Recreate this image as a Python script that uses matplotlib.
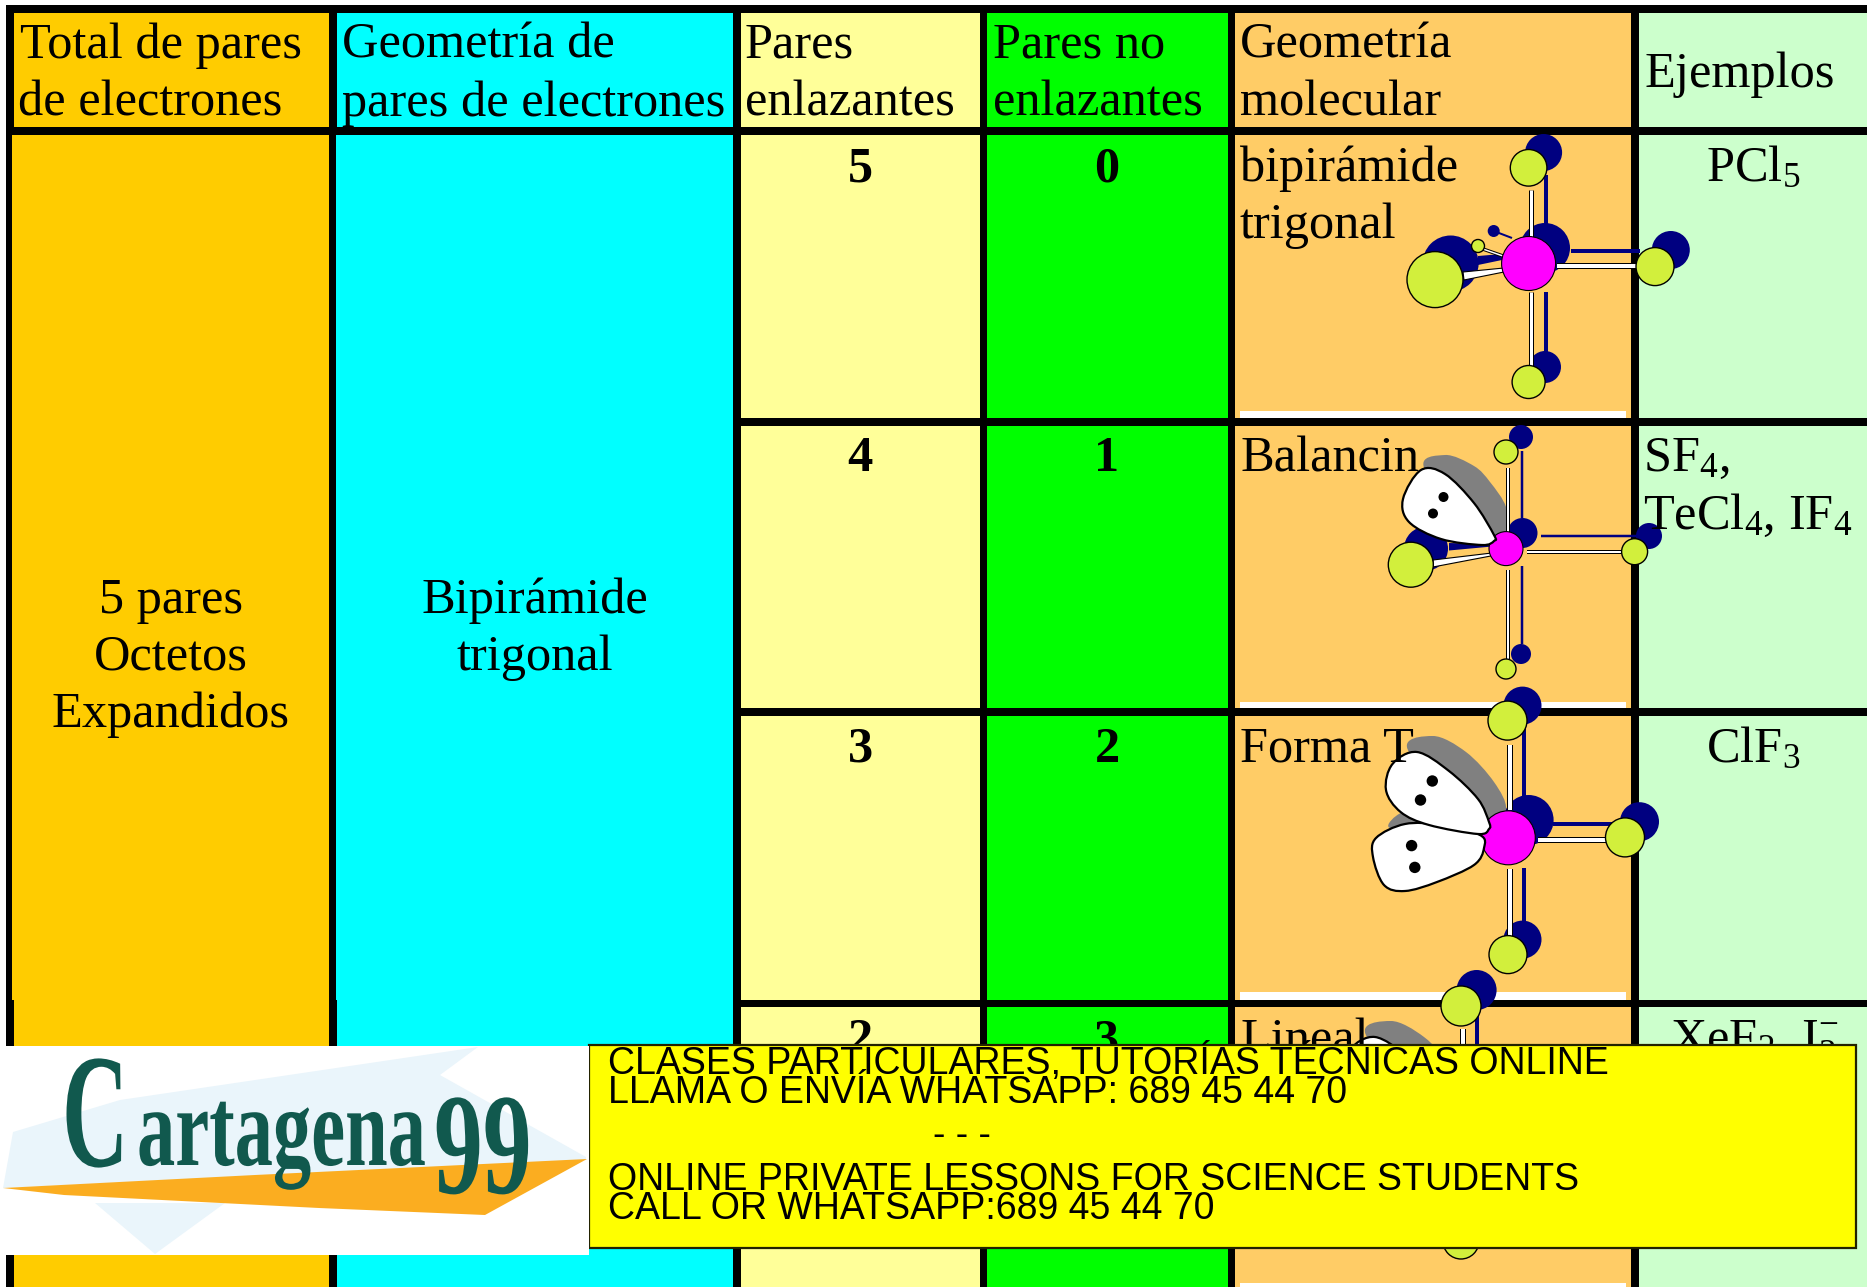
import numpy as np
import matplotlib
matplotlib.use("Agg")
import matplotlib.pyplot as plt
from matplotlib.patches import Rectangle, Circle, Polygon, PathPatch
from matplotlib.path import Path
from matplotlib.patheffects import AbstractPathEffect
from matplotlib.transforms import Affine2D

W, H = 1867, 1287
SERIF = "Liberation Serif"
SANS = "Liberation Sans"
plt.rcParams["font.family"] = SERIF
plt.rcParams["mathtext.fontset"] = "custom"
plt.rcParams["mathtext.rm"] = SERIF
plt.rcParams["mathtext.default"] = "rm"

# ---------- table content ----------
header_col1 = ["Total de pares", "de electrones"]
header_col2 = ["Geometría de", "pares de electrones"]
header_col3 = ["Pares", "enlazantes"]
header_col4 = ["Pares no", "enlazantes"]
header_col5 = ["Geometría", "molecular"]
header_col6 = ["Ejemplos"]
total_lines = ["5 pares", "Octetos", "Expandidos"]
geometry_lines = ["Bipirámide", "trigonal"]
bonding_pairs = [5, 4, 3, 2]
lone_pairs = [0, 1, 2, 3]
banner_lines = ["CLASES PARTICULARES, TUTORÍAS TÉCNICAS ONLINE",
                "LLAMA O ENVÍA WHATSAPP: 689 45 44 70",
                "- - -",
                "ONLINE PRIVATE LESSONS FOR SCIENCE STUDENTS",
                "CALL OR WHATSAPP:689 45 44 70"]

# ---------- colours ----------
C_TOTAL, C_GEOM, C_BOND, C_LONE, C_MOL, C_EX = "#FFCC00", "#00FFFF", "#FFFF99", "#00FF00", "#FFCC66", "#CCFFCC"
NAVY, CL, MAG, GREY = "#000080", "#D2EF3C", "#FF00FF", "#808080"

# ---------- molecule sketches (pixels of the picture) ----------
# atoms: x, y, r
pcl5_navy = [(1543.6, 152.5, 18.5), (1545, 248, 25), (1670.8, 250, 19), (1450.6, 263.5, 28), (1493.7, 231, 6), (1545, 367, 16)]
pcl5_cl = [(1528.6, 167.8, 18.3), (1655, 266.6, 19), (1435, 279.6, 28), (1478, 246, 6.5), (1528.6, 382, 16.5)]
pcl5_centre = (1528.6, 263.5, 27)
pcl5_nbonds = [(1546, 175, 1546, 225, 4), (1546, 292, 1546, 352, 4), (1571, 251, 1640, 251, 4), (1493.7, 231, 1512, 238, 2)]
pcl5_wbonds = [(1530.6, 190, 1530.6, 238, 3), (1530.6, 292, 1530.6, 366, 3), (1557, 266, 1636, 266, 4), (1480, 248, 1503, 256, 1.5)]
pcl5_nwedge = [(1502, 254), (1478, 256), (1478, 265), (1502, 260)]
pcl5_wwedge = [(1514, 267), (1463, 272), (1464, 280), (1514, 270)]

sf4_navy = [(1521, 437, 12), (1522.5, 533, 15), (1649, 536, 13), (1426, 548.6, 22), (1521, 654, 10)]
sf4_cl = [(1506, 452, 12), (1634.6, 551.7, 13), (1410.8, 564.7, 22.5), (1506, 669, 10)]
sf4_centre = (1506, 548.6, 17)
sf4_nbonds = [(1521.7, 451, 1521.7, 518, 2.5), (1521.7, 566, 1521.7, 644, 2.5), (1541, 536, 1636, 536, 2.5)]
sf4_wbonds = [(1508, 467.5, 1508, 533, 2), (1508, 569.7, 1508, 659.6, 2), (1526.6, 551.7, 1622, 551.7, 2)]
sf4_nwedge = [(1490, 544), (1449, 543), (1449, 550.5), (1490, 546.7)]
sf4_wwedge = [(1496, 552.5), (1433, 560), (1433, 567), (1496, 555)]
sf4_grey = [(1425, 470), (1445, 455), (1474, 466), (1490, 482), (1506, 507), (1506, 533), (1490, 545)]
sf4_lobe = [(1494, 535), (1474, 503), (1445, 474), (1421, 470), (1403, 499), (1409, 522), (1441, 539), (1482, 545), (1494, 541)]
sf4_dots = [(1443.5, 497, 5), (1433, 513.5, 5)]

clf3_navy = [(1522.5, 705.6, 19), (1528.6, 820, 25), (1639.5, 821.7, 19.5), (1522.5, 939.6, 19)]
clf3_cl = [(1507.5, 720.6, 19.5), (1625, 837.4, 19.5), (1508, 954.6, 19)]
clf3_centre = (1508.3, 837.8, 27)
clf3_nbonds = [(1524, 725, 1524, 800, 4), (1524, 868, 1524, 925, 4), (1553, 824, 1620, 824, 4)]
clf3_wbonds = [(1509.5, 745, 1509.5, 810, 4), (1509.5, 868.5, 1509.5, 936, 4), (1538, 839.6, 1606, 839.6, 4)]
clf3_grey_a = [(1409, 752), (1433, 736), (1466, 752), (1494, 782), (1506, 809), (1490, 827)]
clf3_grey_b = [(1390, 828), (1401, 813), (1420, 818), (1440, 826)]
clf3_lobe_a = [(1489, 822), (1478, 799), (1449, 771), (1417, 752), (1392.5, 764), (1386, 790), (1400.6, 812), (1429, 825), (1478, 834), (1489, 829)]
clf3_lobe_b = [(1480, 835), (1441, 825), (1405, 824), (1376, 838), (1373, 857), (1384, 885), (1405, 891), (1437, 882), (1474, 865), (1484, 848)]
clf3_dots = [(1432.3, 781, 5.7), (1420.5, 800, 5.7), (1411.6, 845.6, 5.7), (1414.8, 867.4, 5.7)]

lin_navy = [(1476.6, 990, 20)]
lin_cl = [(1461, 1006, 20), (1461, 1241, 18)]
lin_nbonds = [(1477, 1005, 1477, 1060, 4)]
lin_wbonds = [(1463, 1029, 1463, 1060, 4)]
lin_shift = (-42, 285)

# logo sketch
logo_blue_a = [(13, 1132), (120, 1100), (478, 1047), (440, 1075), (586, 1157), (586, 1160), (3, 1188)]
logo_blue_b = [(95, 1203), (225, 1203), (155, 1254)]
logo_orange = [(3, 1188), (255, 1175), (587, 1159), (485, 1215), (319, 1208), (64, 1195)]

# ---------- figure ----------
fig = plt.figure(figsize=(W / 100, H / 100), dpi=100, facecolor="white")
ax = fig.add_axes([0, 0, 1, 1])
ax.set_xlim(0, W)
ax.set_ylim(H, 0)
ax.axis("off")


def rect(x0, y0, x1, y1, color, z=1, **kw):
    ax.add_patch(Rectangle((x0, y0), x1 - x0, y1 - y0, facecolor=color,
                           edgecolor=kw.pop("edgecolor", "none"), linewidth=kw.pop("lw", 0),
                           zorder=z, clip_on=True, **kw))


FS = 36.3
def txt(x, y, s, ha="left", z=5, **kw):
    kw.setdefault("fontsize", FS)
    kw.setdefault("color", "black")
    return ax.text(x, y, s, ha=ha, va="baseline", zorder=z, **kw)


# black table ground
rect(6, 5, W, H, "black", 0.5)
# header cells
for x0, x1, c in [(14, 329, C_TOTAL), (337, 733, C_GEOM), (741, 980, C_BOND),
                  (987, 1228, C_LONE), (1235, 1631, C_MOL), (1639, W, C_EX)]:
    rect(x0, 13, x1, 127, c)
# spanning cells
rect(12, 135, 329, 1000, C_TOTAL)
rect(14, 1000, 329, H, C_TOTAL)
rect(336, 135, 733, 1000, C_GEOM)
rect(337, 1000, 733, H, C_GEOM)
# rows
rows = [(135, 418), (426, 708), (716, 1000), (1007, H + 5)]
for (y0, y1) in rows:
    rect(741, y0, 980, y1, C_BOND)
    rect(987, y0, 1228, y1, C_LONE)
    rect(1235, y0, 1631, y1, C_MOL)
    rect(1639, y0, W, y1, C_EX)
# white strips at foot of the molecule cells
for y0, y1 in [(411, 418), (702, 708), (992, 1000), (1283, H)]:
    rect(1240, y0, 1626, y1, "white", 1.5)


def atoms(lst, color, z, edge="none", lw=0.0):
    for x, y, r in lst:
        ax.add_patch(Circle((x, y), r, facecolor=color, edgecolor=edge, linewidth=lw, zorder=z))


def bonds(lst, z, white):
    for x0, y0, x1, y1, w in lst:
        if white:
            ax.plot([x0, x1], [y0, y1], color="black", lw=(w + 2) * .72, solid_capstyle="butt", zorder=z)
            ax.plot([x0, x1], [y0, y1], color="white", lw=w * .72, solid_capstyle="butt", zorder=z + .01)
        else:
            ax.plot([x0, x1], [y0, y1], color=NAVY, lw=w * .72, solid_capstyle="butt", zorder=z)


def blob(points, face, z, edge="none", lw=0.0, shift=(0, 0)):
    p = np.asarray(points, float) + np.asarray(shift, float)
    n = len(p)
    verts, codes = [p[0]], [Path.MOVETO]
    for i in range(n):
        a, b, c, d = p[i - 1], p[i], p[(i + 1) % n], p[(i + 2) % n]
        verts += [b + (c - a) / 6, c - (d - b) / 6, c]
        codes += [Path.CURVE4] * 3
    ax.add_patch(PathPatch(Path(verts, codes), facecolor=face, edgecolor=edge, linewidth=lw, zorder=z))


def molecule(navy, cl, centre, nb, wb, nw=None, ww=None, base=2):
    atoms(navy, NAVY, base)
    bonds(nb, base + .1, False)
    if nw:
        ax.add_patch(Polygon(nw, facecolor=NAVY, edgecolor="none", zorder=base + .1))
    bonds(wb, base + .4, True)
    if ww:
        ax.add_patch(Polygon(ww, facecolor="white", edgecolor="black", linewidth=.8, zorder=base + .4))
    atoms(cl, CL, base + .5, "black", 1.0)
    if centre:
        atoms([centre], MAG, base + .6, "black", .8)


molecule(pcl5_navy, pcl5_cl, pcl5_centre, pcl5_nbonds, pcl5_wbonds, pcl5_nwedge, pcl5_wwedge)
blob(sf4_grey, GREY, 2.05)
molecule(sf4_navy, sf4_cl, sf4_centre, sf4_nbonds, sf4_wbonds, sf4_nwedge, sf4_wwedge)
blob(sf4_lobe, "white", 2.7, "black", 1.6)
atoms(sf4_dots, "black", 2.8)
blob(clf3_grey_a, GREY, 2.05)
blob(clf3_grey_b, GREY, 2.05)
molecule(clf3_navy, clf3_cl, clf3_centre, clf3_nbonds, clf3_wbonds)
blob(clf3_lobe_a, "white", 2.75, "black", 1.6)
blob(clf3_lobe_b, "white", 2.7, "black", 1.6)
atoms(clf3_dots, "black", 2.8)
blob(clf3_grey_a, GREY, 2.05, shift=lin_shift)
molecule(lin_navy, lin_cl, None, lin_nbonds, lin_wbonds)
blob(clf3_lobe_a, "white", 2.7, "black", 1.6, shift=lin_shift)

# ---------- text ----------
for (x, lines) in [(20, header_col1), (342, header_col2), (745, header_col3),
                   (993, header_col4), (1240, header_col5)]:
    txt(x, 58, lines[0])
    txt(x if x != 20 else 18, 116, lines[1])
txt(1644, 87, header_col6[0])

for y, s in zip([613, 670, 727], total_lines):
    txt(171, y, s, ha="center")
for y, s in zip([613, 670], geometry_lines):
    txt(535, y, s, ha="center")

for y, b, l in zip([181, 471, 762, 1053], bonding_pairs, lone_pairs):
    txt(860, y, str(b), ha="center", fontweight="bold")
    txt(1107, y, str(l), ha="center", fontweight="bold")

txt(1240, 181, "bipirámide")
txt(1240, 238, "trigonal")
txt(1240, 471, "Balancin")
txt(1240, 762, "Forma T")
txt(1240, 1053, "Lineal")

txt(1753, 181, r"$\mathrm{PCl_5}$", ha="center")
txt(1643, 471, r"$\mathrm{SF_4}$,")
txt(1643, 529, r"$\mathrm{TeCl_4}$, $\mathrm{IF_4}$")
txt(1753, 762, r"$\mathrm{ClF_3}$", ha="center")
txt(1754, 1053, r"$\mathrm{XeF_2}$, $\mathrm{I_3^{-}}$", ha="center")

# ---------- banner ----------
rect(589, 1045, 1856, 1248, "#FFFF00", 6, edgecolor="#222200", lw=1.6)
for y, s, x, ha in zip([1074, 1103, 1146, 1190, 1219], banner_lines,
                       [608, 608, 962, 608, 608],
                       ["left", "left", "center", "left", "left"]):
    txt(x, y, s, ha=ha, z=7, family=SANS, fontsize=27.0)

# ---------- logo ----------
rect(0, 1046, 589, 1255, "white", 6.5)
for pts, col in [(logo_blue_a, "#EAF5FB"), (logo_blue_b, "#EAF5FB"), (logo_orange, "#FBAD20")]:
    ax.add_patch(Polygon(pts, facecolor=col, edgecolor="none", zorder=6.6))


class Squeeze(AbstractPathEffect):
    """Narrow a text horizontally round its left edge, as the logo lettering is."""
    def __init__(self, x0, sx):
        super().__init__()
        self.x0, self.sx = x0, sx

    def draw_path(self, renderer, gc, tpath, affine, rgbFace=None):
        t = affine + Affine2D().translate(-self.x0, 0).scale(self.sx, 1).translate(self.x0, 0)
        renderer.draw_path(gc, tpath, t, rgbFace)


for s, x, y, size, sx in [("C", 62, 1166, 117, .565), ("artagena", 137, 1165, 81, .68), ("99", 434, 1193, 104, .676)]:
    txt(x, y, s, z=7, fontsize=size, color="#11594E", fontweight="bold", path_effects=[Squeeze(x, sx)])

fig.savefig("out.png", dpi=100, facecolor="white")
